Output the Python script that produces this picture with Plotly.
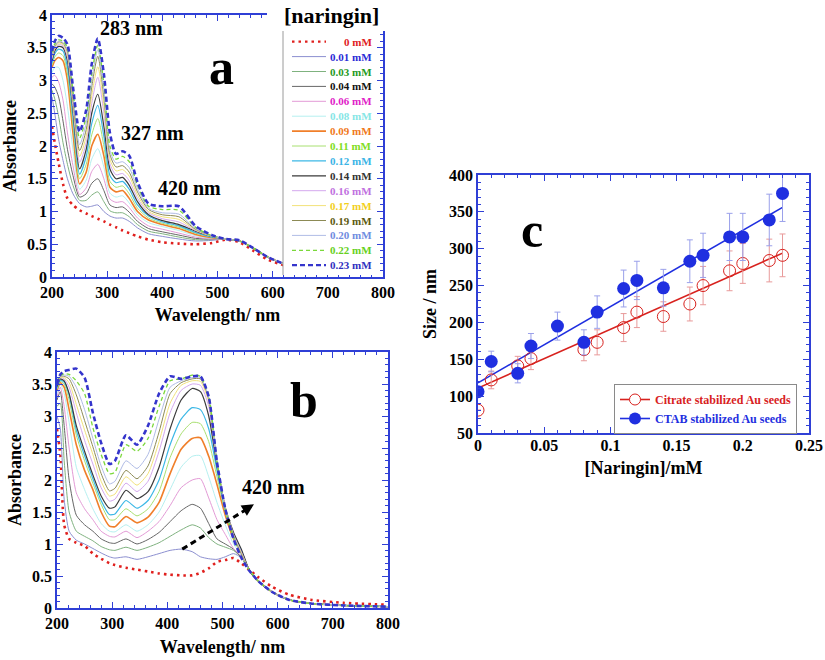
import plotly.graph_objects as go

W, H = 825, 660
FONT = "Liberation Serif"
AX = "#2f3fd6"

# ---------------- data ----------------
conc_labels = ["0 mM", "0.01 mM", "0.03 mM", "0.04 mM", "0.06 mM", "0.08 mM", "0.09 mM",
               "0.11 mM", "0.12 mM", "0.14 mM", "0.16 mM", "0.17 mM", "0.19 mM", "0.20 mM",
               "0.22 mM", "0.23 mM"]

# panel a : absorbance spectra (naringin alone)
wl_a = [200, 205, 212, 220, 228, 238, 250, 262, 272, 283, 294, 305, 316, 328, 340, 355, 375,
        400, 430, 460, 490, 515, 540, 565, 590, 620]
a_000 = [2.3, 2.05, 1.74, 1.42, 1.2, 1.1, 1.02, 0.97, 0.93, 0.89, 0.85, 0.8, 0.76, 0.71, 0.67, 0.62, 0.57, 0.53, 0.51, 0.5, 0.52, 0.57, 0.53, 0.4, 0.27, 0.18]
a_001 = [2.75, 2.5, 2.1, 1.78, 1.5, 1.27, 1.12, 1.07, 1.08, 1.1, 1.0, 0.93, 0.9, 0.9, 0.85, 0.75, 0.66, 0.62, 0.58, 0.55, 0.56, 0.58, 0.55, 0.44, 0.31, 0.2]
a_003 = [2.85, 2.72, 2.45, 2.05, 1.72, 1.4, 1.17, 1.17, 1.25, 1.3, 1.15, 1.01, 0.98, 0.98, 0.92, 0.8, 0.7, 0.66, 0.61, 0.57, 0.57, 0.58, 0.55, 0.44, 0.31, 0.2]
a_004 = [2.95, 2.9, 2.75, 2.38, 1.95, 1.55, 1.22, 1.27, 1.43, 1.5, 1.32, 1.1, 1.06, 1.07, 0.99, 0.85, 0.74, 0.69, 0.64, 0.59, 0.58, 0.58, 0.55, 0.44, 0.31, 0.2]
a_006 = [3.05, 3.08, 2.98, 2.7, 2.2, 1.7, 1.26, 1.36, 1.61, 1.72, 1.5, 1.19, 1.14, 1.15, 1.06, 0.9, 0.78, 0.73, 0.67, 0.61, 0.58, 0.58, 0.55, 0.44, 0.31, 0.2]
a_008 = [3.12, 3.2, 3.2, 3.0, 2.6, 1.95, 1.34, 1.48, 1.8, 1.96, 1.68, 1.28, 1.22, 1.24, 1.13, 0.95, 0.83, 0.77, 0.71, 0.63, 0.59, 0.58, 0.55, 0.44, 0.31, 0.2]
a_009 = [3.2, 3.3, 3.35, 3.3, 3.0, 2.2, 1.42, 1.6, 2.0, 2.18, 1.85, 1.37, 1.3, 1.32, 1.2, 1.0, 0.87, 0.8, 0.74, 0.65, 0.6, 0.58, 0.55, 0.44, 0.31, 0.2]
a_011 = [3.23, 3.36, 3.42, 3.38, 3.1, 2.32, 1.5, 1.72, 2.17, 2.42, 2.0, 1.46, 1.37, 1.39, 1.27, 1.05, 0.9, 0.82, 0.76, 0.67, 0.61, 0.58, 0.55, 0.44, 0.31, 0.2]
a_012 = [3.27, 3.41, 3.48, 3.45, 3.2, 2.44, 1.57, 1.84, 2.34, 2.62, 2.15, 1.55, 1.44, 1.46, 1.34, 1.1, 0.93, 0.84, 0.78, 0.68, 0.61, 0.58, 0.55, 0.44, 0.31, 0.2]
a_014 = [3.3, 3.45, 3.52, 3.5, 3.3, 2.55, 1.65, 1.95, 2.5, 2.79, 2.3, 1.65, 1.5, 1.52, 1.4, 1.15, 0.95, 0.86, 0.8, 0.7, 0.62, 0.58, 0.55, 0.44, 0.31, 0.2]
a_016 = [3.33, 3.48, 3.55, 3.53, 3.35, 2.6, 1.75, 2.05, 2.65, 3.05, 2.5, 1.73, 1.56, 1.58, 1.47, 1.2, 0.98, 0.89, 0.84, 0.71, 0.62, 0.58, 0.55, 0.44, 0.31, 0.2]
a_017 = [3.36, 3.5, 3.57, 3.55, 3.4, 2.66, 1.84, 2.15, 2.77, 3.21, 2.62, 1.8, 1.62, 1.64, 1.54, 1.25, 1.0, 0.92, 0.88, 0.72, 0.62, 0.58, 0.55, 0.44, 0.31, 0.2]
a_019 = [3.38, 3.52, 3.59, 3.57, 3.44, 2.72, 1.93, 2.25, 2.9, 3.37, 2.75, 1.87, 1.68, 1.7, 1.6, 1.3, 1.03, 0.95, 0.92, 0.73, 0.63, 0.58, 0.55, 0.44, 0.31, 0.2]
a_020 = [3.4, 3.54, 3.6, 3.58, 3.47, 2.78, 2.02, 2.35, 3.0, 3.47, 2.85, 1.93, 1.74, 1.76, 1.67, 1.35, 1.05, 0.98, 0.96, 0.74, 0.63, 0.58, 0.55, 0.44, 0.31, 0.2]
a_022 = [3.43, 3.56, 3.62, 3.6, 3.5, 2.84, 2.12, 2.45, 3.1, 3.54, 2.95, 2.0, 1.8, 1.84, 1.76, 1.4, 1.08, 1.03, 1.02, 0.76, 0.63, 0.58, 0.55, 0.44, 0.31, 0.2]
a_023 = [3.45, 3.6, 3.68, 3.65, 3.55, 2.9, 2.22, 2.55, 3.25, 3.64, 3.1, 2.2, 1.88, 1.92, 1.85, 1.45, 1.12, 1.08, 1.08, 0.78, 0.64, 0.58, 0.56, 0.44, 0.31, 0.2]

# panel b : absorbance spectra (with Au seeds)
wl_b = [200, 206, 213, 222, 235, 250, 265, 280, 295, 305, 325, 345, 365, 385, 405, 425, 445,
        460, 475, 490, 505, 520, 535, 548, 565, 590, 620, 660, 720, 800]
b_000 = [2.8, 2.4, 1.3, 1.08, 1.02, 0.97, 0.85, 0.77, 0.7, 0.67, 0.63, 0.6, 0.57, 0.54, 0.52, 0.51, 0.51, 0.55, 0.62, 0.72, 0.75, 0.78, 0.69, 0.6, 0.48, 0.33, 0.21, 0.13, 0.08, 0.05]
b_001 = [3.0, 2.8, 1.7, 1.2, 1.06, 1.0, 0.93, 0.86, 0.8, 0.78, 0.8, 0.76, 0.8, 0.85, 0.9, 0.92, 0.88, 0.8, 0.77, 0.76, 0.8, 0.85, 0.78, 0.6, 0.42, 0.25, 0.13, 0.07, 0.04, 0.02]
b_003 = [3.15, 3.2, 2.3, 1.5, 1.2, 1.12, 1.05, 0.96, 0.91, 0.9, 0.95, 0.9, 0.95, 1.02, 1.12, 1.22, 1.3, 1.25, 1.1, 1.0, 0.95, 0.9, 0.78, 0.6, 0.42, 0.25, 0.13, 0.07, 0.04, 0.02]
b_004 = [3.25, 3.38, 2.85, 2.0, 1.45, 1.3, 1.2, 1.08, 1.02, 1.01, 1.08, 1.0, 1.07, 1.18, 1.35, 1.52, 1.62, 1.56, 1.32, 1.08, 1.0, 0.92, 0.78, 0.6, 0.42, 0.25, 0.13, 0.07, 0.04, 0.02]
b_006 = [3.3, 3.45, 3.15, 2.5, 1.8, 1.55, 1.38, 1.2, 1.12, 1.11, 1.2, 1.1, 1.2, 1.35, 1.6, 1.88, 2.0, 2.02, 1.72, 1.38, 1.15, 0.93, 0.8, 0.6, 0.42, 0.25, 0.13, 0.07, 0.04, 0.02]
b_008 = [3.35, 3.5, 3.35, 2.9, 2.2, 1.85, 1.55, 1.32, 1.2, 1.19, 1.3, 1.2, 1.3, 1.5, 1.85, 2.2, 2.37, 2.38, 2.05, 1.65, 1.3, 1.0, 0.82, 0.6, 0.42, 0.25, 0.13, 0.07, 0.04, 0.02]
b_009 = [3.4, 3.52, 3.45, 3.1, 2.55, 2.15, 1.85, 1.5, 1.28, 1.27, 1.43, 1.33, 1.42, 1.65, 2.1, 2.48, 2.65, 2.66, 2.37, 1.93, 1.45, 1.08, 0.85, 0.6, 0.42, 0.25, 0.13, 0.07, 0.04, 0.02]
b_011 = [3.42, 3.54, 3.5, 3.25, 2.7, 2.3, 1.95, 1.62, 1.38, 1.38, 1.55, 1.44, 1.55, 1.82, 2.35, 2.72, 2.9, 2.88, 2.6, 2.05, 1.5, 1.12, 0.87, 0.6, 0.42, 0.25, 0.13, 0.07, 0.04, 0.02]
b_012 = [3.44, 3.56, 3.53, 3.33, 2.78, 2.38, 2.02, 1.68, 1.46, 1.47, 1.68, 1.56, 1.68, 2.0, 2.55, 2.95, 3.13, 3.1, 2.8, 2.15, 1.54, 1.15, 0.88, 0.6, 0.42, 0.25, 0.13, 0.07, 0.04, 0.02]
b_014 = [3.46, 3.58, 3.55, 3.35, 2.85, 2.45, 2.08, 1.75, 1.56, 1.58, 1.84, 1.71, 1.82, 2.2, 2.8, 3.25, 3.43, 3.38, 3.0, 2.23, 1.57, 1.18, 0.9, 0.6, 0.42, 0.25, 0.13, 0.07, 0.04, 0.02]
b_016 = [3.48, 3.6, 3.58, 3.45, 3.05, 2.62, 2.25, 1.88, 1.67, 1.7, 1.95, 1.82, 1.98, 2.45, 3.05, 3.4, 3.5, 3.48, 3.15, 2.26, 1.58, 1.15, 0.86, 0.6, 0.42, 0.25, 0.13, 0.07, 0.04, 0.02]
b_017 = [3.5, 3.6, 3.6, 3.52, 3.18, 2.78, 2.4, 1.98, 1.75, 1.78, 2.05, 1.92, 2.1, 2.6, 3.2, 3.48, 3.55, 3.54, 3.22, 2.27, 1.58, 1.13, 0.84, 0.6, 0.42, 0.25, 0.13, 0.07, 0.04, 0.02]
b_019 = [3.5, 3.62, 3.62, 3.58, 3.33, 2.93, 2.52, 2.1, 1.83, 1.87, 2.15, 2.02, 2.22, 2.75, 3.35, 3.52, 3.58, 3.58, 3.27, 2.28, 1.57, 1.12, 0.82, 0.6, 0.42, 0.25, 0.13, 0.07, 0.04, 0.02]
b_020 = [3.52, 3.62, 3.64, 3.62, 3.45, 3.1, 2.65, 2.22, 1.94, 1.98, 2.3, 2.18, 2.4, 2.95, 3.45, 3.55, 3.6, 3.6, 3.3, 2.28, 1.56, 1.1, 0.8, 0.6, 0.42, 0.25, 0.13, 0.07, 0.04, 0.02]
b_022 = [3.53, 3.63, 3.66, 3.65, 3.55, 3.35, 2.82, 2.4, 2.1, 2.12, 2.55, 2.45, 2.65, 3.15, 3.55, 3.58, 3.64, 3.62, 3.32, 2.28, 1.55, 1.1, 0.79, 0.6, 0.42, 0.25, 0.13, 0.07, 0.04, 0.02]
b_023 = [3.5, 3.65, 3.7, 3.72, 3.74, 3.6, 3.05, 2.58, 2.25, 2.3, 2.7, 2.55, 2.85, 3.35, 3.62, 3.58, 3.62, 3.62, 3.3, 2.28, 1.55, 1.08, 0.77, 0.59, 0.42, 0.25, 0.13, 0.07, 0.04, 0.02]

spectra_a = [a_000, a_001, a_003, a_004, a_006, a_008, a_009, a_011, a_012, a_014,
             a_016, a_017, a_019, a_020, a_022, a_023]
spectra_b = [b_000, b_001, b_003, b_004, b_006, b_008, b_009, b_011, b_012, b_014,
             b_016, b_017, b_019, b_020, b_022, b_023]

# panel c : particle size vs naringin
conc_cit = [0, 0.01, 0.03, 0.04, 0.08, 0.09, 0.11, 0.12, 0.14, 0.16, 0.17, 0.19, 0.20, 0.22, 0.23]
size_cit = [81, 122, 141, 151, 163, 173, 193, 214, 208, 225, 250, 270, 280, 284, 291]
err_cit = [0, 12, 13, 15, 15, 17, 19, 21, 20, 23, 26, 27, 27, 29, 29]
conc_ctab = [0, 0.01, 0.03, 0.04, 0.06, 0.08, 0.09, 0.11, 0.12, 0.14, 0.16, 0.17, 0.19, 0.20, 0.22, 0.23]
size_ctab = [106, 147, 131, 168, 195, 173, 214, 246, 257, 247, 283, 291, 316, 316, 339, 375]
err_ctab = [0, 14, 13, 17, 19, 17, 22, 25, 26, 25, 29, 30, 32, 32, 35, 38]
fit_x = [0, 0.23]
fit_cit = [111, 294]
fit_ctab = [118, 356]

# ---------------- styles ----------------
line_colors = ["#e0201e", "#8c8fd0", "#7fb27f", "#666666", "#e39ad6", "#b5f0f0", "#f07f2a",
               "#a8e070", "#3cb8e6", "#3a3a3a", "#d4a8ee", "#f2e27a", "#8c8a55", "#b0bce6",
               "#7ad83a", "#3535cc"]
label_colors = ["#e0201e", "#2a2ad6", "#1f9a1f", "#111111", "#e020c8", "#86e6e6", "#f07820",
                "#80dd22", "#3ab4e6", "#333333", "#c070e0", "#f2cf1e", "#5c5a10", "#6f8ce0",
                "#66d022", "#3030c0"]
line_dash = ["2.5px,4px"] + ["solid"] * 13 + ["4px,3px", "5px,3px"]
line_width = [2.6, 1, 1, 1, 1, 1, 1.6, 1, 1.2, 1.2, 1, 1, 1, 1, 1.3, 2.6]


def px_x(p):
    return p / W


def px_y(p):
    return 1 - p / H


fig = go.Figure()

for i in range(len(conc_labels)):
    fig.add_trace(go.Scatter(x=wl_a, y=spectra_a[i], mode="lines", xaxis="x", yaxis="y",
                             line=dict(color=line_colors[i], width=line_width[i],
                                       dash=line_dash[i], shape="spline", smoothing=0.7),
                             showlegend=False, hoverinfo="skip"))
for i in range(len(conc_labels)):
    fig.add_trace(go.Scatter(x=wl_b, y=spectra_b[i], mode="lines", xaxis="x2", yaxis="y2",
                             line=dict(color=line_colors[i], width=line_width[i],
                                       dash=line_dash[i], shape="spline", smoothing=0.6),
                             showlegend=False, hoverinfo="skip"))

RED = "#d8221e"
BLUE = "#1f2fe0"
fig.add_trace(go.Scatter(x=fit_x, y=fit_cit, mode="lines", xaxis="x3", yaxis="y3",
                         line=dict(color=RED, width=1.6), showlegend=False))
fig.add_trace(go.Scatter(x=fit_x, y=fit_ctab, mode="lines", xaxis="x3", yaxis="y3",
                         line=dict(color=BLUE, width=1.6), showlegend=False))
fig.add_trace(go.Scatter(x=conc_cit, y=size_cit, mode="markers", xaxis="x3", yaxis="y3",
                         marker=dict(symbol="circle-open", size=12, color=RED, line=dict(width=1)),
                         error_y=dict(type="data", array=err_cit, color="#e89a9a", thickness=1, width=3),
                         showlegend=False))
fig.add_trace(go.Scatter(x=conc_ctab, y=size_ctab, mode="markers", xaxis="x3", yaxis="y3",
                         marker=dict(symbol="circle", size=13, color=BLUE),
                         error_y=dict(type="data", array=err_ctab, color="#9aa0ea", thickness=1, width=3),
                         showlegend=False))
# legend entries for panel c
fig.add_trace(go.Scatter(x=[None], y=[None], mode="lines+markers", xaxis="x3", yaxis="y3",
                         name='<span style="color:%s">Citrate stabilized Au seeds</span>' % RED,
                         line=dict(color=RED, width=1.6),
                         marker=dict(symbol="circle", size=11, color="white", line=dict(color=RED, width=1)),
                         legend="legend2"))
fig.add_trace(go.Scatter(x=[None], y=[None], mode="lines+markers", xaxis="x3", yaxis="y3",
                         name='<span style="color:%s">CTAB stabilized Au seeds</span>' % BLUE,
                         line=dict(color=BLUE, width=1.6),
                         marker=dict(symbol="circle", size=12, color=BLUE),
                         legend="legend2"))

tickfont = dict(family=FONT, size=16, color="black", weight="bold")
titlefont = dict(family=FONT, size=18, color="black", weight="bold")


def axis(domain, anchor, rng, dtick, minor, title, standoff, **kw):
    d = dict(domain=domain, anchor=anchor, range=rng, dtick=dtick,
             showline=True, linecolor=AX, linewidth=1.5, mirror="allticks",
             ticks="inside", ticklen=6, tickwidth=1.3, tickcolor=AX,
             minor=dict(ticks="inside", ticklen=3, tickwidth=1, tickcolor=AX, dtick=minor),
             showgrid=False, zeroline=False, tickfont=tickfont,
             title=dict(text=title, font=titlefont, standoff=standoff), automargin=False)
    d.update(kw)
    return d


layout = dict(
    width=W, height=H, margin=dict(l=0, r=0, t=0, b=0),
    paper_bgcolor="white", plot_bgcolor="white",
    xaxis=axis([px_x(52), px_x(383)], "y", [200, 800], 100, 20, "Wavelength/ nm", 8),
    yaxis=axis([px_y(277), px_y(15)], "x", [0, 4], 0.5, 0.1, "Absorbance", 6),
    xaxis2=axis([px_x(57), px_x(388)], "y2", [200, 800], 100, 20, "Wavelength/ nm", 9),
    yaxis2=axis([px_y(608), px_y(352)], "x2", [0, 4], 0.5, 0.1, "Absorbance", 6),
    xaxis3=axis([px_x(478), px_x(809)], "y3", [0, 0.25], 0.05, 0.01, "[Naringin]/mM", 8,
                ticklabelstandoff=-3),
    yaxis3=axis([px_y(433), px_y(175)], "x3", [50, 400], 50, 10, "Size / nm", 8),
    showlegend=True,
    legend2=dict(x=px_x(614), y=px_y(384), xanchor="left", yanchor="top",
                 bgcolor="white", bordercolor="#8a8a8a", borderwidth=1,
                 font=dict(family=FONT, size=12, weight="bold"), itemwidth=30,
                 tracegroupgap=0),
)
fig.update_layout(**layout)

shapes = []
annotations = []
# legend of panel a (drawn manually)
shapes.append(dict(type="rect", xref="paper", yref="paper", x0=px_x(267), x1=px_x(400),
                   y0=px_y(31), y1=px_y(0), fillcolor="white", line=dict(width=0), layer="above"))
shapes.append(dict(type="rect", xref="paper", yref="paper", x0=px_x(283), x1=px_x(376),
                   y0=px_y(275), y1=px_y(31), fillcolor="white", line=dict(width=0), layer="above"))
shapes.append(dict(type="line", xref="paper", yref="paper", x0=px_x(283), x1=px_x(283),
                   y0=px_y(275), y1=px_y(31), line=dict(color="#9a9a9a", width=1), layer="above"))
annotations.append(dict(xref="paper", yref="paper", x=px_x(331), y=px_y(1), text="[naringin]",
                        xanchor="center", yanchor="top", showarrow=False,
                        font=dict(family=FONT, size=22, weight="bold", color="black")))
for i, lab in enumerate(conc_labels):
    yy = 41.7 + i * 14.9
    shapes.append(dict(type="line", xref="paper", yref="paper", x0=px_x(292), x1=px_x(326),
                       y0=px_y(yy), y1=px_y(yy), layer="above",
                       line=dict(color=line_colors[i], width=min(line_width[i], 2.2),
                                 dash=line_dash[i])))
    annotations.append(dict(xref="paper", yref="paper", x=px_x(374), y=px_y(yy), text=lab,
                            xanchor="right", yanchor="middle", showarrow=False,
                            font=dict(family=FONT, size=11, weight="bold", color=label_colors[i])))

# panel labels / peak annotations
big = dict(family=FONT, size=50, weight="bold", color="black")
mid = dict(family=FONT, size=20, weight="bold", color="black")
annotations += [
    dict(xref="x", yref="y", x=508, y=3.2, text="a", showarrow=False, font=big),
    dict(xref="x", yref="y", x=345, y=3.8, text="283 nm", showarrow=False, font=mid),
    dict(xref="x", yref="y", x=383, y=2.2, text="327 nm", showarrow=False, font=mid),
    dict(xref="x", yref="y", x=450, y=1.36, text="420 nm", showarrow=False, font=mid),
    dict(xref="x2", yref="y2", x=648, y=3.25, text="b", showarrow=False, font=big),
    dict(xref="x2", yref="y2", x=592, y=1.89, text="420 nm", showarrow=False, font=mid),
    dict(xref="x3", yref="y3", x=0.0406, y=326, text="c", showarrow=False, font=big),
    dict(xref="x2", yref="y2", x=557, y=1.62, ax=543, ay=1.545, axref="x2", ayref="y2", text="",
         showarrow=True, arrowhead=2, arrowsize=0.8, arrowwidth=3, arrowcolor="black"),
]
shapes.append(dict(type="line", xref="x2", yref="y2", x0=427, y0=0.92, x1=547, y1=1.56,
                   line=dict(color="black", width=3, dash="6px,4px")))

fig.update_layout(shapes=shapes, annotations=annotations)
fig.write_html("out.html", config={"displayModeBar": False},
               post_script="document.body.style.margin='0';")
